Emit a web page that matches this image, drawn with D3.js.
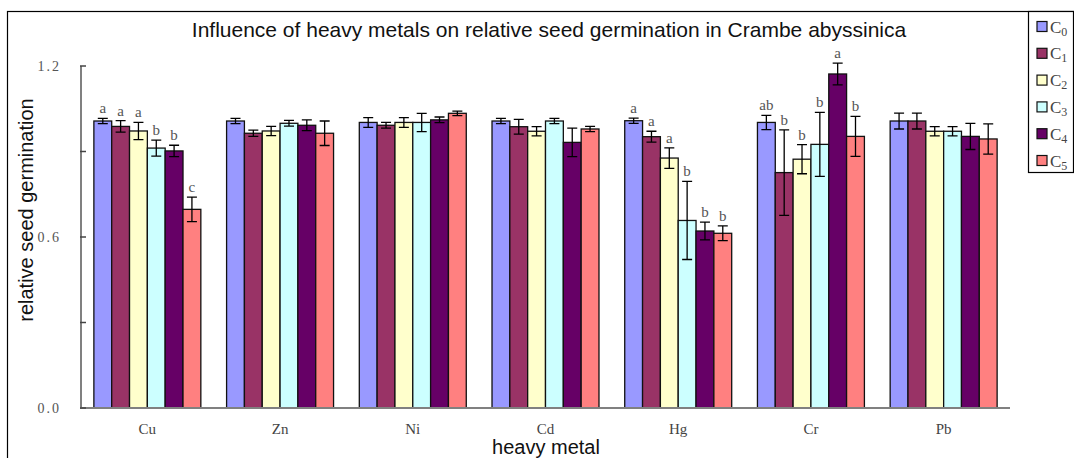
<!DOCTYPE html>
<html>
<head>
<meta charset="utf-8">
<script src="https://cdn.jsdelivr.net/npm/d3@7"></script>
<style>
  body { margin: 0; background: #fff; }
  svg { display: block; }
</style>
</head>
<body>
<svg width="1074" height="458"></svg>
<script>
var width = 1074, height = 458;

// heavy metals (x categories) and treatment levels (series)
var metals = ["Cu", "Zn", "Ni", "Cd", "Hg", "Cr", "Pb"];
var levels = ["0", "1", "2", "3", "4", "5"];
var colors = ["#9999ff", "#993366", "#ffffcc", "#ccffff", "#660066", "#ff8080"];

// relative germination, one array per level, in metal order
var c0 = [1.007, 1.007, 1.002, 1.007, 1.008, 1.002, 1.007];
var c1 = [0.988, 0.964, 0.992, 0.987, 0.952, 0.826, 1.007];
var c2 = [0.972, 0.972, 1.002, 0.971, 0.877, 0.873, 0.971];
var c3 = [0.912, 0.999, 1.002, 1.007, 0.658, 0.925, 0.971];
var c4 = [0.902, 0.992, 1.011, 0.932, 0.621, 1.172, 0.953];
var c5 = [0.697, 0.964, 1.034, 0.979, 0.613, 0.953, 0.944];

// error bar half-lengths
var e0 = [0.009, 0.009, 0.017, 0.009, 0.009, 0.025, 0.028];
var e1 = [0.020, 0.011, 0.010, 0.026, 0.019, 0.150, 0.028];
var e2 = [0.030, 0.016, 0.017, 0.016, 0.036, 0.051, 0.016];
var e3 = [0.028, 0.010, 0.032, 0.009, 0.137, 0.112, 0.016];
var e4 = [0.020, 0.019, 0.010, 0.050, 0.031, 0.038, 0.046];
var e5 = [0.043, 0.043, 0.008, 0.009, 0.026, 0.070, 0.053];

// significance letters
var letters = {
  Cu: ["a", "a", "a", "b", "b", "c"],
  Hg: ["a", "a", "a", "b", "b", "b"],
  Cr: ["ab", "b", "b", "b", "a", "b"]
};

var yTicks = [0, 0.3, 0.6, 0.9, 1.2];
var yLabels = ["0.0", "", "0.6", "", "1.2"];

var means = [c0, c1, c2, c3, c4, c5];
var errs = [e0, e1, e2, e3, e4, e5];

var rows = [];
metals.forEach(function(m, i) {
  levels.forEach(function(l, j) {
    rows.push({ metal: m, level: l, v: means[j][i], e: errs[j][i],
      letter: letters[m] ? letters[m][j] : null });
  });
});

var svg = d3.select("svg");

var x0 = d3.scaleBand().domain(metals).range([81, 1010])
    .paddingInner(0.194).paddingOuter(0.097);
var x1 = d3.scaleBand().domain(levels).range([0, x0.bandwidth()]);
var y = d3.scaleLinear().domain([0, 1.2]).range([408, 66]);

// outer frame
svg.append("rect")
    .attr("x", 7.5).attr("y", 11.5)
    .attr("width", 1080).attr("height", 460)
    .attr("fill", "none").attr("stroke", "#000").attr("stroke-width", 1.2);

svg.append("text")
    .attr("x", 549).attr("y", 37)
    .attr("text-anchor", "middle")
    .style("font-family", "Liberation Sans, Arial, sans-serif")
    .style("font-size", "21px")
    .attr("fill", "#111")
    .text("Influence of heavy metals on relative seed germination in Crambe abyssinica");

// bars
var g = svg.append("g");
var bar = g.selectAll("g.bar")
    .data(rows)
  .enter().append("g")
    .attr("class", "bar")
    .attr("transform", function(d) { return "translate(" + (x0(d.metal) + x1(d.level)) + ",0)"; });

bar.append("rect")
    .attr("x", 0)
    .attr("y", function(d) { return y(d.v); })
    .attr("width", x1.bandwidth())
    .attr("height", function(d) { return y(0) - y(d.v); })
    .attr("fill", function(d) { return colors[levels.indexOf(d.level)]; })
    .attr("stroke", "#111").attr("stroke-width", 1.3);

var bw = x1.bandwidth();
var cap = 5;
bar.append("path")
    .attr("d", function(d) {
      var cx = bw / 2, t = y(d.v + d.e), b = y(d.v - d.e);
      return "M" + (cx - cap) + "," + t + "H" + (cx + cap) +
             "M" + cx + "," + t + "V" + b +
             "M" + (cx - cap) + "," + b + "H" + (cx + cap);
    })
    .attr("fill", "none").attr("stroke", "#000").attr("stroke-width", 1.3);

bar.filter(function(d) { return d.letter; })
  .append("text")
    .attr("x", bw / 2)
    .attr("y", function(d) { return y(d.v + d.e) - 5; })
    .attr("text-anchor", "middle")
    .style("font-family", "Liberation Serif, serif")
    .style("font-size", "15px")
    .attr("fill", "#555")
    .text(function(d) { return d.letter; });

// axes
svg.append("line")
    .attr("x1", 81).attr("x2", 81).attr("y1", y(1.2)).attr("y2", y(0))
    .attr("stroke", "#808080").attr("stroke-width", 2);
svg.append("line")
    .attr("x1", 80).attr("x2", 1010).attr("y1", y(0)).attr("y2", y(0))
    .attr("stroke", "#808080").attr("stroke-width", 2);

svg.selectAll("line.ytick")
    .data(yTicks)
  .enter().append("line")
    .attr("class", "ytick")
    .attr("x1", 80).attr("x2", 86)
    .attr("y1", function(d) { return y(d); }).attr("y2", function(d) { return y(d); })
    .attr("stroke", "#444").attr("stroke-width", 1.5);

svg.selectAll("text.ylab")
    .data(yTicks)
  .enter().append("text")
    .attr("class", "ylab")
    .attr("x", 61)
    .attr("y", function(d) { return y(d) + 5; })
    .attr("text-anchor", "end")
    .style("font-family", "Liberation Serif, serif")
    .style("font-size", "14px")
    .style("letter-spacing", "2px")
    .attr("fill", "#555")
    .text(function(d, i) { return yLabels[i]; });

svg.selectAll("text.xlab")
    .data(metals)
  .enter().append("text")
    .attr("class", "xlab")
    .attr("x", function(d) { return x0(d) + x0.bandwidth() / 2; })
    .attr("y", 434)
    .attr("text-anchor", "middle")
    .style("font-family", "Liberation Serif, serif")
    .style("font-size", "15px")
    .attr("fill", "#444")
    .text(function(d) { return d; });

svg.append("text")
    .attr("x", 546).attr("y", 454)
    .attr("text-anchor", "middle")
    .style("font-family", "Liberation Sans, Arial, sans-serif")
    .style("font-size", "20px")
    .attr("fill", "#111")
    .text("heavy metal");

svg.append("text")
    .attr("transform", "translate(33,210) rotate(-90)")
    .attr("text-anchor", "middle")
    .style("font-family", "Liberation Sans, Arial, sans-serif")
    .style("font-size", "20px")
    .attr("fill", "#111")
    .text("relative seed germination");

// legend
var leg = svg.append("g");
leg.append("rect")
    .attr("x", 1028.5).attr("y", 11.5).attr("width", 45).attr("height", 161)
    .attr("fill", "#fff").attr("stroke", "#000").attr("stroke-width", 1.2);

var item = leg.selectAll("g.item")
    .data(levels)
  .enter().append("g")
    .attr("class", "item")
    .attr("transform", function(d, i) { return "translate(1037," + (26.5 + i * 26.8) + ")"; });

item.append("rect")
    .attr("x", 0).attr("y", -5).attr("width", 10).attr("height", 10)
    .attr("fill", function(d, i) { return colors[i]; })
    .attr("stroke", "#111").attr("stroke-width", 1.2);

var lt = item.append("text")
    .attr("x", 13).attr("y", 6)
    .style("font-family", "Liberation Serif, serif")
    .style("font-size", "17px")
    .attr("fill", "#444");
lt.append("tspan").text("C");
lt.append("tspan").attr("dy", 3).style("font-size", "12px").text(function(d) { return d; });
</script>
</body>
</html>
